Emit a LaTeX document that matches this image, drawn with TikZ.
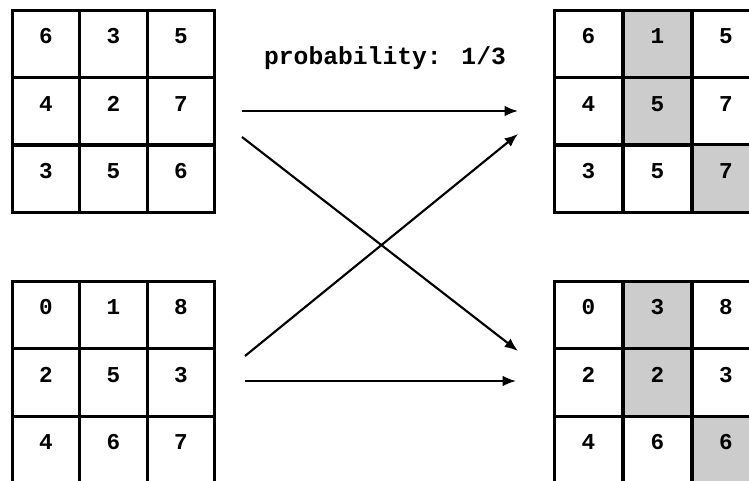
\documentclass[tikz,border=0pt]{standalone}
\usepackage{fontspec}
\setmainfont{Liberation Mono}
\usetikzlibrary{arrows.meta}
\begin{document}
\begin{tikzpicture}[x=0.75pt,y=-0.75pt,
  cell/.style={draw,line width=2.3pt,rectangle,inner sep=0pt,
    minimum width=50.6pt,minimum height=50.6pt,
    text height=25pt,text depth=25.6pt,font=\fontsize{17}{19}\selectfont\bfseries},
  shade/.style={fill=black!20},
  arr/.style={line width=1.6pt,-{Latex[length=10pt,width=8pt]}}]
\useasboundingbox (0,0) rectangle (749,481);
\begin{scope}
\clip (0,0) rectangle (749,481);
% top left
\node[cell] (a11) at (46,44) {6};
\node[cell] (a12) at (113.5,44) {3};
\node[cell] (a13) at (181,44) {5};
\node[cell] (a21) at (46,111.5) {4};
\node[cell] (a22) at (113.5,111.5) {2};
\node[cell] (a23) at (181,111.5) {7};
\node[cell] (a31) at (46,178.5) {3};
\node[cell] (a32) at (113.5,178.5) {5};
\node[cell] (a33) at (181,178.5) {6};
% bottom left
\node[cell] (b11) at (46,315) {0};
\node[cell] (b12) at (113.5,315) {1};
\node[cell] (b13) at (181,315) {8};
\node[cell] (b21) at (46,382.5) {2};
\node[cell] (b22) at (113.5,382.5) {5};
\node[cell] (b23) at (181,382.5) {3};
\node[cell] (b31) at (46,450) {4};
\node[cell] (b32) at (113.5,450) {6};
\node[cell] (b33) at (181,450) {7};
% top right
\node[cell] (c11) at (588.5,44) {6};
\node[cell,shade] (c12) at (657.5,44) {1};
\node[cell] (c13) at (726,44) {5};
\node[cell] (c21) at (588.5,111.5) {4};
\node[cell,shade] (c22) at (657.5,111.5) {5};
\node[cell] (c23) at (726,111.5) {7};
\node[cell] (c31) at (588.5,178.5) {3};
\node[cell] (c32) at (657.5,178.5) {5};
\node[cell,shade] (c33) at (726,178.5) {7};
% bottom right
\node[cell] (d11) at (588.5,315) {0};
\node[cell,shade] (d12) at (657.5,315) {3};
\node[cell] (d13) at (726,315) {8};
\node[cell] (d21) at (588.5,382.5) {2};
\node[cell,shade] (d22) at (657.5,382.5) {2};
\node[cell] (d23) at (726,382.5) {3};
\node[cell] (d31) at (588.5,450) {4};
\node[cell] (d32) at (657.5,450) {6};
\node[cell,shade] (d33) at (726,450) {6};
\end{scope}
\node[font=\fontsize{18.5}{20}\selectfont\bfseries] (lbl) at (385,58) {probability: 1/3};
\coordinate (s1) at (242,111);
\coordinate (e1) at (518,111);
\coordinate (s2) at (242,137);
\coordinate (e2) at (518,351);
\coordinate (s3) at (245,356);
\coordinate (e3) at (518,134);
\coordinate (s4) at (245,381);
\coordinate (e4) at (516,381);
\draw[arr] (s1) -- (e1);
\draw[arr] (s2) -- (e2);
\draw[arr] (s3) -- (e3);
\draw[arr] (s4) -- (e4);
\end{tikzpicture}
\end{document}
